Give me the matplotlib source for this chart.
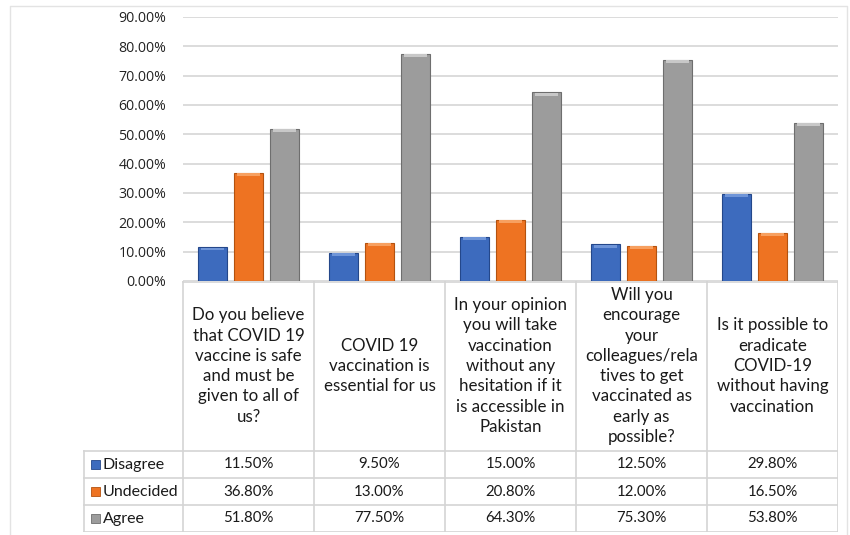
import matplotlib.pyplot as plt
from matplotlib.patches import Rectangle

questions = [
    "Do you believe\nthat COVID 19\nvaccine is safe\nand must be\ngiven to all of\nus?",
    "COVID 19\nvaccination is\nessential for us",
    "In your opinion\nyou will take\nvaccination\nwithout any\nhesitation if it\nis accessible in\nPakistan",
    "Will you\nencourage\nyour\ncolleagues/rela\ntives to get\nvaccinated as\nearly as\npossible?",
    "Is it possible to\neradicate\nCOVID-19\nwithout having\nvaccination",
]
series = ["Disagree", "Undecided", "Agree"]
disagree = [11.5, 9.5, 15.0, 12.5, 29.8]
undecided = [36.8, 13.0, 20.8, 12.0, 16.5]
agree = [51.8, 77.5, 64.3, 75.3, 53.8]
yticks = [0, 10, 20, 30, 40, 50, 60, 70, 80, 90]

colors = ["#3D6BBE", "#EE7322", "#9C9C9C"]
edges = ["#24478A", "#B4520F", "#6E6E6E"]
tops = ["#6F95D8", "#F7A060", "#C8C8C8"]

W, H = 850, 535
fig = plt.figure(figsize=(8.5, 5.35), dpi=100)
fig.patch.set_facecolor("white")

def px_axes(x0, y0, x1, y1):
    # pixel box (top-left origin) -> figure axes
    return fig.add_axes([x0 / W, 1 - y1 / H, (x1 - x0) / W, (y1 - y0) / H])

tick_font = "Open Sans"
cell_font = "Lato"

# outer frame
frame = fig.add_axes([0, 0, 1, 1])
frame.set_xlim(0, W)
frame.set_ylim(H, 0)
frame.axis("off")
frame.plot([10, 10, 847, 847], [545, 6, 6, 545], color="#E3E3E3", lw=1)

# bar area
ax = px_axes(183, 17, 838, 281)
ax.set_xlim(0, 5)
ax.set_ylim(0, 90)
for s in ax.spines.values():
    s.set_visible(False)
ax.set_yticks(yticks)
ax.set_yticklabels([f"{v:.2f}%" for v in yticks], fontsize=10.2,
                   family=tick_font, color="#222222")
ax.tick_params(axis="y", length=0, pad=12)
ax.set_xticks([])
ax.grid(axis="y", color="#D9D9D9", lw=1.3)
ax.set_axisbelow(True)

bw = 0.22
step = 0.275
for i, vals in enumerate([disagree, undecided, agree]):
    xs = [k + 0.5 + (i - 1) * step for k in range(len(vals))]
    ax.bar(xs, vals, width=bw, color=colors[i], edgecolor=edges[i],
           linewidth=0.8, zorder=3)
    # bevel highlight along the top
    ax.bar(xs, [1.0] * len(vals), bottom=[v - 1.1 for v in vals],
           width=bw * 0.8, color=tops[i], linewidth=0, zorder=4)

# table
t = px_axes(83, 281, 838, 532)
t.set_xlim(83, 838)
t.set_ylim(532, 281)
t.axis("off")
line_c = "#D4D4D4"
cols = [183, 314, 445, 576, 707, 838]
rows = [451, 478, 505, 532]
t.plot([183, 838], [281.5, 281.5], color=line_c, lw=1.2)
for x in cols:
    t.plot([x, x], [281, 532], color=line_c, lw=1.2)
t.plot([83.5, 83.5], [451, 532], color=line_c, lw=1.2)
for y in rows:
    t.plot([83, 838], [y, y], color=line_c, lw=1.2)

for k, q in enumerate(questions):
    cx = (cols[k] + cols[k + 1]) / 2
    t.text(cx, 366, q, ha="center", va="center", fontsize=12.2,
           family=cell_font, color="#1a1a1a", linespacing=1.33)

for i, (name, vals) in enumerate(zip(series, [disagree, undecided, agree])):
    cy = rows[i] + 13.5
    t.add_patch(Rectangle((91, cy - 4.5), 9, 9, facecolor=colors[i],
                          edgecolor=edges[i], lw=0.6))
    t.text(103, cy, name, ha="left", va="center", fontsize=11.5,
           family=cell_font, color="#1a1a1a")
    for k, v in enumerate(vals):
        cx = (cols[k] + cols[k + 1]) / 2
        t.text(cx, cy, f"{v:.2f}%", ha="center", va="center", fontsize=10.8,
               family=cell_font, color="#1a1a1a")

fig.savefig("out.png", dpi=100, facecolor="white")
